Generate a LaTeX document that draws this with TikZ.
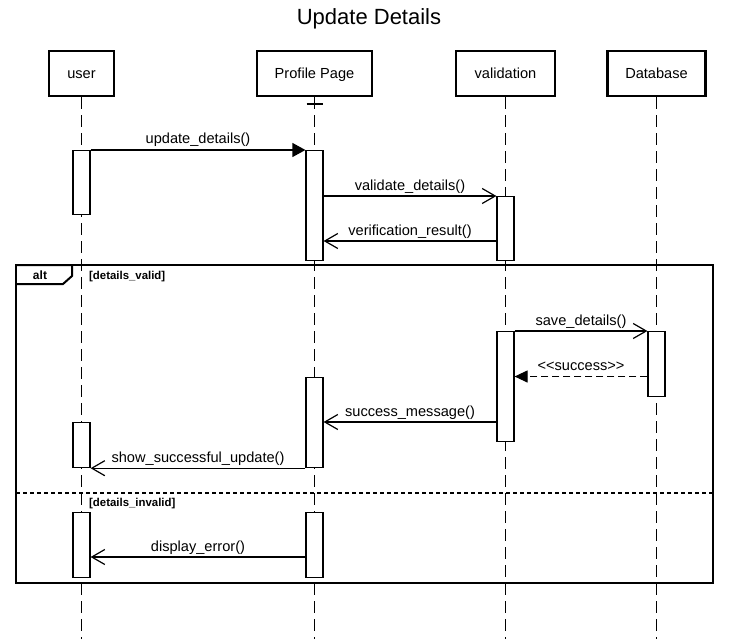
\documentclass[tikz,border=0pt]{standalone}
\usepackage{fontspec}
\setmainfont{Liberation Sans}
\usetikzlibrary{arrows.meta}
\begin{document}
\begin{tikzpicture}[x=1pt,y=-1pt,
  txt/.style={font=\fontsize{14.6}{17}\selectfont, inner sep=0pt},
  head/.style={draw, line width=2.5pt, fill=white, inner sep=0pt, minimum height=45pt,
    txt, text height=11pt, text depth=0pt},
  lifeline/.style={line width=1.2pt, dash pattern=on 12pt off 6pt},
  act/.style={draw, line width=1.2pt, fill=white, minimum width=17pt, inner sep=0pt, anchor=north},
  msg/.style={line width=1.2pt},
  call/.style={msg, -{Triangle[length=13pt,width=14pt]}},
  reply/.style={msg, -{Straight Barb[length=13pt,width=15pt]}},
  ret/.style={msg, dash pattern=on 7pt off 4pt, -{Triangle[length=13pt,width=12pt]}},
  lbl/.style={txt, anchor=base, yshift=6pt},
  guard/.style={font=\bfseries\fontsize{11.4}{13}\selectfont, inner sep=0pt, anchor=base west},
  frame/.style={line width=2pt}
]
\useasboundingbox (0,0) rectangle (738,639);
\coordinate (bottom) at (0,639);

% title
\node[font=\fontsize{22}{26}\selectfont, inner sep=0pt, anchor=base] (title) at (369,25) {Update Details};

% participants
\node[head, minimum width=65pt]  (user) at (81.5,73.5)  {user};
\node[head, minimum width=115pt] (prof) at (314.5,73.5) {Profile Page};
\node[head, minimum width=99pt]  (val)  at (505.5,73.5) {validation};
\node[head, minimum width=98pt]  (db)   at (656.5,73.5) {Database};

% lifelines
\draw[lifeline] (user.south) -- (user.south |- bottom);
\draw[lifeline] (prof.south) -- (prof.south |- bottom);
\draw[lifeline] (val.south)  -- (val.south |- bottom);
\draw[lifeline] (db.south)   -- (db.south |- bottom);
\coordinate (tick) at (314.5,104);
\draw[line width=1.2pt] ([xshift=-8pt]tick) -- ([xshift=8pt]tick);

% activation bars
\node[act, minimum height=64pt]  (uA) at (81.5,150)  {};
\node[act, minimum height=110pt] (pA) at (314.5,150) {};
\node[act, minimum height=64pt]  (vA) at (505.5,196) {};
\node[act, minimum height=110pt] (vB) at (505.5,331) {};
\node[act, minimum height=65pt]  (dA) at (656.5,331) {};
\node[act, minimum height=90pt]  (pB) at (314.5,377) {};
\node[act, minimum height=45pt]  (uB) at (81.5,422)  {};
\node[act, minimum height=65pt]  (uC) at (81.5,512)  {};
\node[act, minimum height=65pt]  (pC) at (314.5,512) {};

% message levels
\coordinate (m3) at (0,241);
\coordinate (m5) at (0,376.5);
\coordinate (m6) at (0,422);
\coordinate (m8) at (0,557);

% messages
\draw[call]  (uA.north east) -- node[lbl] {update\_details()} (pA.north west);
\draw[reply] (pA.east |- vA.north) -- node[lbl] {validate\_details()} (vA.north west);
\draw[reply] (vA.west |- m3) -- node[lbl] {verification\_result()} (pA.east |- m3);
\draw[reply] (vB.north east) -- node[lbl] {save\_details()} (dA.north west);
\draw[ret]   (dA.west |- m5) -- node[lbl] {<{}<success>{}>} (vB.east |- m5);
\draw[reply] (vB.west |- m6) -- node[lbl] {success\_message()} (pB.east |- m6);
\draw[reply] (pB.south west) -- node[lbl] {show\_successful\_update()} (uB.south east);
\draw[reply] (pC.west |- m8) -- node[lbl] {display\_error()} (uC.east |- m8);

% combined fragment
\draw[frame] (16,265) rectangle (713,583);
\draw[frame] (16,265) -- (72,265) -- (72,276) -- (63,284) -- (16,284);
\node[font=\bfseries\fontsize{12}{14}\selectfont, inner sep=0pt, anchor=base] (alt) at (40,279) {alt};
\node[guard] (g1) at (89,279) {[details\_valid]};
\draw[frame, dash pattern=on 4pt off 3pt] (16,493) -- (713,493);
\node[guard] (g2) at (89,506) {[details\_invalid]};
\end{tikzpicture}
\end{document}
